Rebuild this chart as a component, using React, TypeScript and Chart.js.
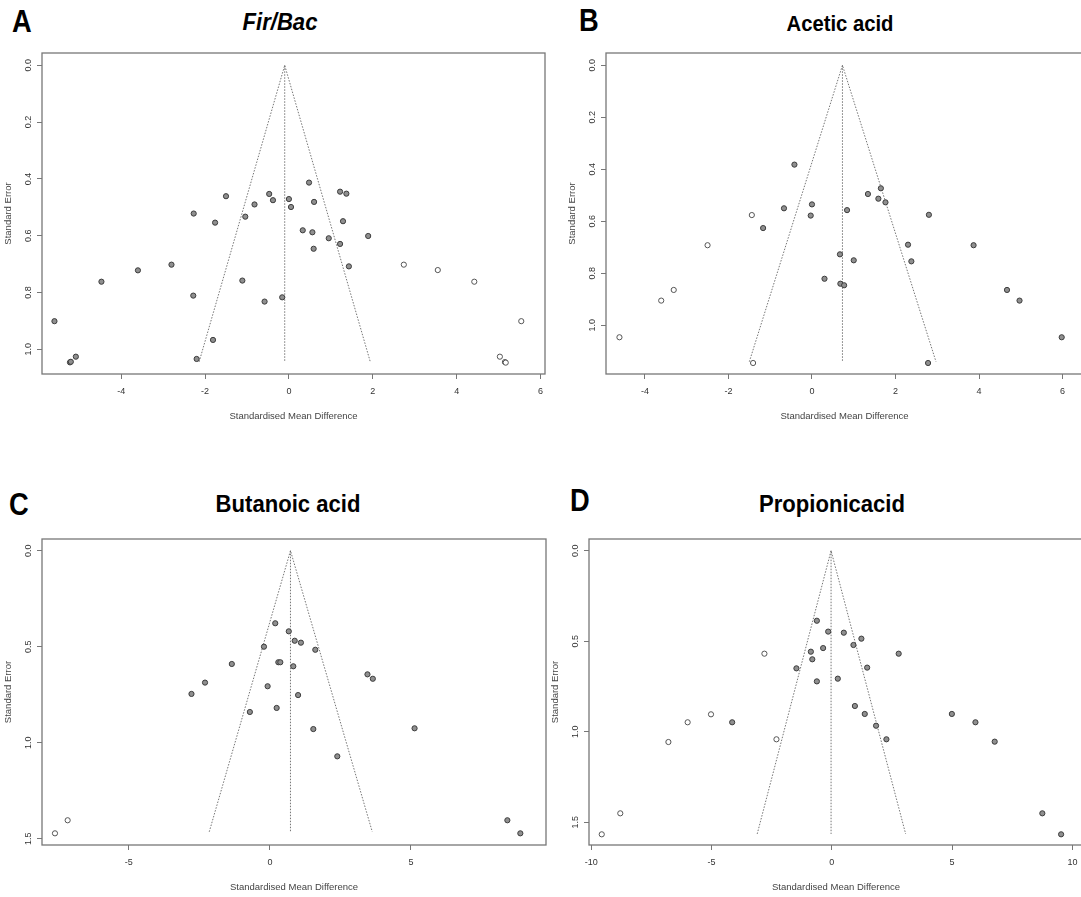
import React, { useEffect, useRef } from "react";
import { Chart, registerables } from "chart.js";

Chart.register(...registerables);

// ---------- Panel A: Fir/Bac ----------
const A_OBS_X = [-5.59, -5.22, -5.20, -5.08, -4.47, -3.60, -2.80, -2.27, -2.28, -2.20, -1.81, -1.76, -1.50, -1.11, -1.04, -0.82, -0.58, -0.47, -0.38, -0.16, 0.00, 0.05, 0.48, 0.60, 0.33, 0.56, 0.59, 0.95, 1.22, 1.37, 1.29, 1.22, 1.43, 1.89];
const A_OBS_SE = [0.901, 1.046, 1.044, 1.026, 0.762, 0.722, 0.702, 0.522, 0.811, 1.034, 0.967, 0.554, 0.461, 0.758, 0.533, 0.490, 0.832, 0.453, 0.475, 0.817, 0.471, 0.499, 0.413, 0.481, 0.581, 0.588, 0.646, 0.609, 0.445, 0.452, 0.549, 0.629, 0.708, 0.601];
const A_FILL_X = [2.74, 3.55, 4.42, 5.54, 5.03, 5.15, 5.17];
const A_FILL_SE = [0.702, 0.721, 0.762, 0.901, 1.026, 1.045, 1.047];
const A_FUNNEL_X = [-2.14, -0.10, 1.94];
const A_FUNNEL_SE = [1.044, 0, 1.044];
const A_X_TICKS = [-4, -2, 0, 2, 4, 6];
const A_Y_TICKS = [0, 0.2, 0.4, 0.6, 0.8, 1.0];

// ---------- Panel B: Acetic acid ----------
const B_OBS_X = [-0.42, -0.67, -1.17, 0.00, -0.03, 0.84, 1.34, 1.65, 1.59, 1.76, 2.80, 2.30, 2.38, 3.87, 0.67, 1.00, 0.30, 0.68, 0.77, 4.67, 4.97, 5.98, 2.78];
const B_OBS_SE = [0.382, 0.550, 0.626, 0.535, 0.578, 0.557, 0.495, 0.473, 0.513, 0.527, 0.575, 0.690, 0.754, 0.692, 0.727, 0.750, 0.821, 0.840, 0.846, 0.864, 0.905, 1.046, 1.145];
const B_FILL_X = [-4.61, -3.61, -3.31, -2.50, -1.44, -1.41];
const B_FILL_SE = [1.046, 0.905, 0.864, 0.692, 0.576, 1.145];
const B_FUNNEL_X = [-1.50, 0.73, 2.97];
const B_FUNNEL_SE = [1.14, 0, 1.14];
const B_X_TICKS = [-4, -2, 0, 2, 4, 6];
const B_Y_TICKS = [0, 0.2, 0.4, 0.6, 0.8, 1.0];

// ---------- Panel C: Butanoic acid ----------
const C_OBS_X = [-2.78, -2.30, -1.35, -0.71, -0.21, -0.08, 0.19, 0.24, 0.30, 0.37, 0.67, 0.83, 0.88, 1.00, 1.10, 1.61, 1.54, 2.39, 3.46, 3.65, 5.13, 8.42, 8.88];
const C_OBS_SE = [0.746, 0.687, 0.590, 0.840, 0.500, 0.706, 0.378, 0.819, 0.581, 0.581, 0.420, 0.602, 0.469, 0.752, 0.479, 0.516, 0.929, 1.071, 0.644, 0.667, 0.925, 1.404, 1.472];
const C_FILL_X = [-7.62, -7.17];
const C_FILL_SE = [1.472, 1.404];
const C_FUNNEL_X = [-2.15, 0.73, 3.63];
const C_FUNNEL_SE = [1.464, 0, 1.464];
const C_X_TICKS = [-5, 0, 5];
const C_Y_TICKS = [0, 0.5, 1.0, 1.5];

// ---------- Panel D: Propionicacid ----------
const D_OBS_X = [-4.14, -0.62, -0.87, -0.81, -1.47, -0.62, -0.15, -0.36, 0.50, 1.23, 0.90, 2.78, 1.47, 0.25, 0.96, 1.37, 1.84, 2.27, 4.99, 5.97, 6.77, 8.75, 9.53];
const D_OBS_SE = [0.948, 0.387, 0.558, 0.600, 0.650, 0.722, 0.447, 0.538, 0.453, 0.486, 0.521, 0.569, 0.646, 0.707, 0.858, 0.902, 0.967, 1.042, 0.902, 0.948, 1.055, 1.451, 1.567];
const D_FILL_X = [-9.56, -8.79, -6.79, -5.99, -5.02, -2.80, -2.30];
const D_FILL_SE = [1.567, 1.451, 1.057, 0.948, 0.904, 0.569, 1.042];
const D_FUNNEL_X = [-3.10, -0.03, 3.07];
const D_FUNNEL_SE = [1.565, 0, 1.565];
const D_X_TICKS = [-10, -5, 0, 5, 10];
const D_Y_TICKS = [0, 0.5, 1.0, 1.5];

const X_TITLE = "Standardised Mean Difference";
const Y_TITLE = "Standard Error";
const FONT = "'Liberation Sans', Arial, Helvetica, sans-serif";

type PanelCfg = {
  obsX: number[]; obsSE: number[]; fillX: number[]; fillSE: number[];
  funX: number[]; funSE: number[]; xTicks: number[]; yTicks: number[];
  xMin: number; xMax: number; yMin: number; yMax: number;
  left: number; top: number; width: number; height: number;
};

const PANELS: PanelCfg[] = [
  { obsX: A_OBS_X, obsSE: A_OBS_SE, fillX: A_FILL_X, fillSE: A_FILL_SE, funX: A_FUNNEL_X, funSE: A_FUNNEL_SE,
    xTicks: A_X_TICKS, yTicks: A_Y_TICKS, xMin: -5.887, xMax: 6.106, yMin: -0.0433, yMax: 1.087,
    left: 2, top: 45, width: 553, height: 379 },
  { obsX: B_OBS_X, obsSE: B_OBS_SE, fillX: B_FILL_X, fillSE: B_FILL_SE, funX: B_FUNNEL_X, funSE: B_FUNNEL_SE,
    xTicks: B_X_TICKS, yTicks: B_Y_TICKS, xMin: -4.932, xMax: 6.49, yMin: -0.0473, yMax: 1.1873,
    left: 566, top: 45, width: 527, height: 379 },
  { obsX: C_OBS_X, obsSE: C_OBS_SE, fillX: C_FILL_X, fillSE: C_FILL_SE, funX: C_FUNNEL_X, funSE: C_FUNNEL_SE,
    xTicks: C_X_TICKS, yTicks: C_Y_TICKS, xMin: -8.08, xMax: 9.79, yMin: -0.0609, yMax: 1.5328,
    left: 2, top: 531, width: 554, height: 364 },
  { obsX: D_OBS_X, obsSE: D_OBS_SE, fillX: D_FILL_X, fillSE: D_FILL_SE, funX: D_FUNNEL_X, funSE: D_FUNNEL_SE,
    xTicks: D_X_TICKS, yTicks: D_Y_TICKS, xMin: -10.09, xMax: 10.44, yMin: -0.0646, yMax: 1.626,
    left: 549, top: 531, width: 544, height: 364 },
];

const TITLES = [
  { text: "Fir/Bac", italic: true, cx: 280, baseline: 30.7, size: 24 },
  { text: "Acetic acid", italic: false, cx: 840, baseline: 31.7, size: 22 },
  { text: "Butanoic acid", italic: false, cx: 288, baseline: 512.3, size: 24 },
  { text: "Propionicacid", italic: false, cx: 832, baseline: 512, size: 24 },
];
const LETTERS = [
  { text: "A", x: 11.7, baseline: 32.3 },
  { text: "B", x: 579.3, baseline: 31.7 },
  { text: "C", x: 9.3, baseline: 515 },
  { text: "D", x: 570, baseline: 511.7 },
];

const boxPlugin = {
  id: "plotBox",
  afterDatasetsDraw(chart: any) {
    const { ctx, chartArea } = chart;
    const { left, top, right, bottom } = chartArea;
    ctx.save();
    ctx.strokeStyle = "#777777";
    ctx.lineWidth = 1.3;
    ctx.strokeRect(left, top, right - left, bottom - top);
    ctx.restore();
  },
};

function FunnelPanel({ cfg }: { cfg: PanelCfg }) {
  const ref = useRef<HTMLCanvasElement>(null);
  useEffect(() => {
    const canvas = ref.current;
    if (!canvas) return;
    const obs = cfg.obsX.map((x, i) => ({ x, y: cfg.obsSE[i] }));
    const fill = cfg.fillX.map((x, i) => ({ x, y: cfg.fillSE[i] }));
    const funnel = cfg.funX.map((x, i) => ({ x, y: cfg.funSE[i] }));
    const center = [
      { x: cfg.funX[1], y: cfg.funSE[1] },
      { x: cfg.funX[1], y: cfg.funSE[0] },
    ];
    const tickFont = { family: FONT, size: 9 };
    const titleFont = { family: FONT, size: 9.5 };
    const gridOpts = { display: true, drawOnChartArea: false, drawTicks: true, tickLength: 5, color: "#777777", lineWidth: 1 };
    const chart = new Chart(canvas, {
      type: "scatter",
      data: {
        datasets: [
          { data: obs, pointRadius: 2.6, pointBackgroundColor: "#8f8f8f", pointBorderColor: "#3c3c3c", pointBorderWidth: 1, showLine: false } as any,
          { data: fill, pointRadius: 2.6, pointBackgroundColor: "#ffffff", pointBorderColor: "#555555", pointBorderWidth: 1, showLine: false } as any,
          { data: funnel, showLine: true, pointRadius: 0, borderColor: "#666666", borderWidth: 0.9, borderDash: [1.5, 1.5], fill: false } as any,
          { data: center, showLine: true, pointRadius: 0, borderColor: "#666666", borderWidth: 0.9, borderDash: [1.5, 1.5], fill: false } as any,
        ],
      },
      options: {
        responsive: false,
        maintainAspectRatio: false,
        animation: false,
        events: [],
        layout: { padding: { left: 0, top: 8, right: 10, bottom: 0 } },
        plugins: { legend: { display: false }, tooltip: { enabled: false }, title: { display: false } },
        scales: {
          x: {
            type: "linear",
            min: cfg.xMin,
            max: cfg.xMax,
            afterBuildTicks: (s: any) => { s.ticks = cfg.xTicks.map((v) => ({ value: v })); },
            afterFit: (s: any) => { s.height = 50; },
            grid: gridOpts,
            border: { display: false },
            ticks: { font: tickFont, color: "#333333", padding: 7, autoSkip: false, maxRotation: 0, callback: (v: any) => String(v) },
            title: { display: true, text: X_TITLE, font: titleFont, color: "#444444", padding: { top: 0, bottom: 2.3 } },
          },
          y: {
            type: "linear",
            reverse: true,
            min: cfg.yMin,
            max: cfg.yMax,
            afterBuildTicks: (s: any) => { s.ticks = cfg.yTicks.slice().reverse().map((v) => ({ value: v })); },
            afterFit: (s: any) => { s.width = 40; },
            grid: gridOpts,
            border: { display: false },
            ticks: { font: tickFont, color: "#333333", padding: 2, autoSkip: false, minRotation: 90, maxRotation: 90, crossAlign: "center", callback: (v: any) => Number(v).toFixed(1) },
            title: { display: true, text: Y_TITLE, font: titleFont, color: "#444444", padding: { top: 0.3, bottom: 0 } },
          },
        },
      } as any,
      plugins: [boxPlugin],
    });
    return () => chart.destroy();
  }, [cfg]);
  return (
    <canvas
      ref={ref}
      width={cfg.width}
      height={cfg.height}
      style={{ position: "absolute", left: cfg.left, top: cfg.top, width: cfg.width, height: cfg.height }}
    />
  );
}

export default function App() {
  return (
    <div style={{ position: "absolute", left: 0, top: 0, width: 1081, height: 897, overflow: "hidden", background: "#ffffff" }}>
      {PANELS.map((p, i) => <FunnelPanel key={i} cfg={p} />)}
      {TITLES.map((t, i) => (
        <div
          key={"t" + i}
          style={{
            position: "absolute",
            left: t.cx,
            top: t.baseline - 0.8465 * t.size,
            fontFamily: FONT,
            fontSize: t.size,
            lineHeight: 1,
            fontWeight: "bold",
            fontStyle: t.italic ? "italic" : "normal",
            whiteSpace: "nowrap",
            color: "#000",
            transform: "translateX(-50%) scaleX(0.92)",
            transformOrigin: "center",
          }}
        >
          {t.text}
        </div>
      ))}
      {LETTERS.map((l, i) => (
        <div
          key={"l" + i}
          style={{
            position: "absolute",
            left: l.x,
            top: l.baseline - 0.8465 * 31,
            fontFamily: FONT,
            fontSize: 31,
            lineHeight: 1,
            fontWeight: "bold",
            whiteSpace: "nowrap",
            color: "#000",
            transform: "scaleX(0.88)",
            transformOrigin: "left",
          }}
        >
          {l.text}
        </div>
      ))}
    </div>
  );
}
